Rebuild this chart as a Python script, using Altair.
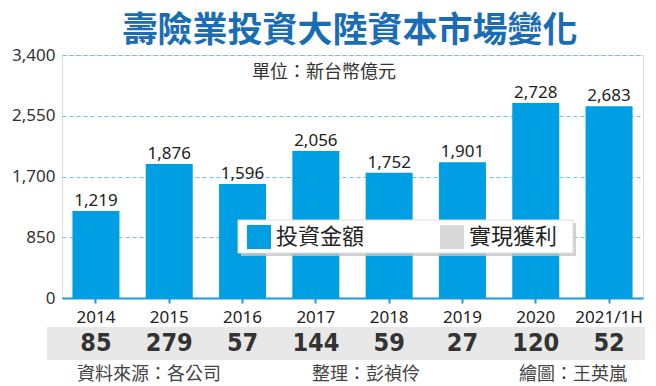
import altair as alt
import pandas as pd

# ---- data ----
years = ["2014", "2015", "2016", "2017", "2018", "2019", "2020", "2021/1H"]
invest = [1219, 1876, 1596, 2056, 1752, 1901, 2728, 2683]
profit = [85, 279, 57, 144, 59, 27, 120, 52]
series_names = ["投資金額", "實現獲利"]
y_ticks = [0, 850, 1700, 2550, 3400]
title_text = "壽險業投資大陸資本市場變化"
unit_text = "單位：新台幣億元"
source_text = "資料來源：各公司"
editor_text = "整理：彭禎伶"
artist_text = "繪圖：王英嵐"

df = pd.DataFrame({"year": years, "invest": invest, "profit": profit,
                   "series": [series_names[0]] * len(years)})

CJK = "Noto Sans CJK TC"
NUM = "Noto Sans"
COND = "'DejaVu Sans Condensed', 'Liberation Sans Narrow', Roboto, sans-serif"
BLUE = "#009fe3"
AXIS_BLUE = "#1a9ad9"

x_enc = alt.X(
    "year:N", sort=years,
    scale=alt.Scale(paddingInner=0.36, paddingOuter=0.143),
    axis=alt.Axis(title=None, labelAngle=0, labelFont=NUM, labelFontSize=17,
                  labelColor="#222", labelPadding=6, tickSize=5, tickWidth=2,
                  tickColor=AXIS_BLUE, domainColor=AXIS_BLUE, domainWidth=2,
                  grid=False),
)
y_enc = alt.Y(
    "invest:Q",
    scale=alt.Scale(domain=[0, 3400], nice=False),
    axis=alt.Axis(values=y_ticks, format=",.0f", title=None, domain=False,
                  ticks=False, labelPadding=7, labelFont=NUM, labelFontSize=17,
                  labelColor="#333", gridColor="#6cbfe9", gridDash=[4, 3],
                  gridWidth=1),
)

base = alt.Chart(df)

bars = base.mark_bar(size=47).encode(
    x=x_enc, y=y_enc,
    color=alt.Color(
        "series:N",
        scale=alt.Scale(domain=series_names, range=[BLUE, "#d9d9d9"]),
        legend=alt.Legend(title=None, orient="none", legendX=185, legendY=170,
                          direction="horizontal", symbolType="square",
                          symbolSize=576, symbolStrokeWidth=0, labelFont=CJK,
                          labelFontSize=22, labelColor="#222", labelOffset=5,
                          columnPadding=75, padding=0),
    ),
)

bar_labels = base.mark_text(baseline="alphabetic", dy=-5, font=NUM,
                            fontSize=17, color="#222").encode(
    x=x_enc, y=y_enc, text=alt.Text("invest:Q", format=",.0f")
)

one = pd.DataFrame({"k": [0]})

shadow = alt.Chart(one).mark_rect(color="#c4c4c4", opacity=0.8).encode(
    x=alt.value(179), x2=alt.value(514), y=alt.value(168), y2=alt.value(201)
)
legend_box = alt.Chart(one).mark_rect(color="white", stroke="#dddddd",
                                      strokeWidth=1).encode(
    x=alt.value(176), x2=alt.value(511), y=alt.value(165), y2=alt.value(198)
)

band = alt.Chart(one).mark_rect(color="#e8e8e8").encode(
    x=alt.value(-15), x2=alt.value(583), y=alt.value(272), y2=alt.value(305)
)
profit_text = base.mark_text(font=COND, fontSize=25, fontWeight="bold",
                             color="#333", baseline="middle").encode(
    x=x_enc, y=alt.value(288), text="profit:Q"
)

def note(txt, px, py, size, align="left", color="#333", weight="normal"):
    return alt.Chart(one).mark_text(text=txt, font=CJK, fontSize=size,
                                    align=align, baseline="middle",
                                    color=color, fontWeight=weight).encode(
        x=alt.value(px), y=alt.value(py))

title = note(title_text, 288, -24, 35, align="center", color="#1a6db5",
             weight="bold")
unit = note(unit_text, 262, 18, 18, align="center")
src1 = note(source_text, 15, 320, 18, color="#444")
src2 = note(editor_text, 250, 320, 18, color="#444")
src3 = note(artist_text, 457, 320, 18, color="#444")

chart = alt.layer(
    bars, bar_labels, shadow, legend_box, band, profit_text,
    title, unit, src1, src2, src3,
).properties(
    width=581, height=243,
    padding={"left": 54, "top": 47, "right": 5, "bottom": 88},
    autosize=alt.AutoSizeParams(type="none"),
).configure_view(stroke=None).configure(background="white")

chart.save("out.html", embed_options={"renderer": "svg", "actions": False})
